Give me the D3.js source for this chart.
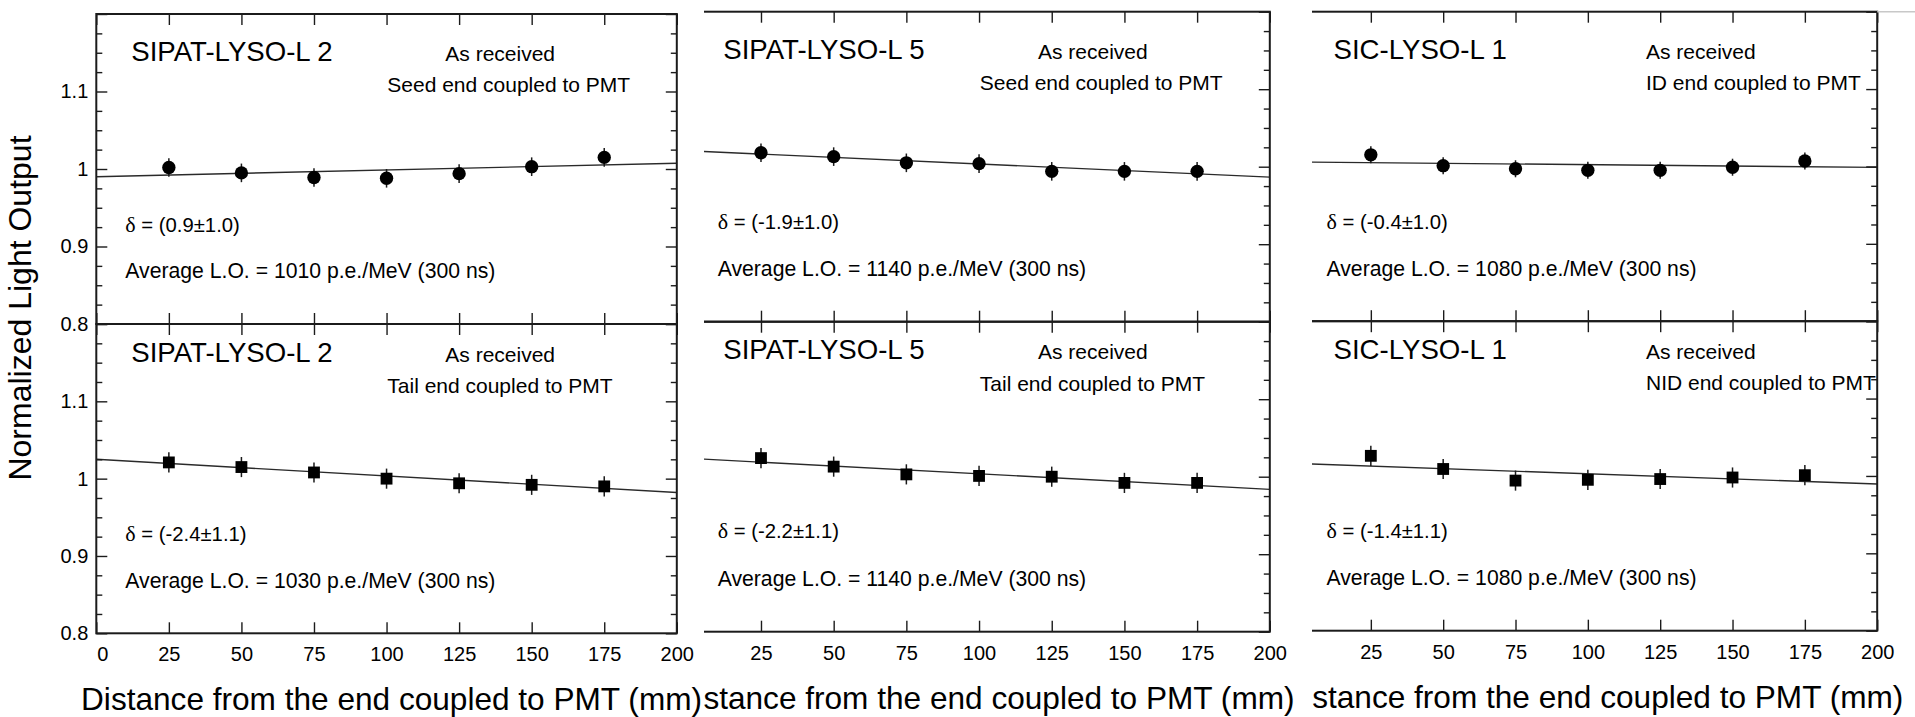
<!DOCTYPE html>
<html>
<head>
<meta charset="utf-8">
<script src="https://cdn.jsdelivr.net/npm/d3@7"></script>
<style>
  body { margin: 0; background: #fff; }
  svg { display: block; font-family: 'Liberation Sans', Arial, Helvetica, sans-serif; }
</style>
</head>
<body>
<div id="chart"></div>
<script>
// Distances from the coupled end (mm) where the source was placed
var positions = [25, 50, 75, 100, 125, 150, 175]
var xTickValues = [0, 25, 50, 75, 100, 125, 150, 175, 200]
var yLabelValues = [0.8, 0.9, 1, 1.1]
var yMajorValues = [0.8, 0.9, 1, 1.1, 1.2]
var yMinorValues = [0.825, 0.85, 0.875, 0.925, 0.95, 0.975, 1.025, 1.05, 1.075, 1.125, 1.15, 1.175]

var crystals = ['SIPAT-LYSO-L 2', 'SIPAT-LYSO-L 5', 'SIC-LYSO-L 1']
var topEnds = ['Seed end coupled to PMT', 'Seed end coupled to PMT', 'ID end coupled to PMT']
var bottomEnds = ['Tail end coupled to PMT', 'Tail end coupled to PMT', 'NID end coupled to PMT']

// Normalized light output, top row (circles)
var topValues = [
  [1.002, 0.995, 0.989, 0.988, 0.994, 1.003, 1.015],
  [1.018, 1.013, 1.005, 1.004, 0.994, 0.994, 0.994],
  [1.015, 1.001, 0.997, 0.995, 0.995, 0.999, 1.007]
]
var topErrors = [
  [0.012, 0.012, 0.012, 0.012, 0.012, 0.012, 0.012],
  [0.012, 0.012, 0.012, 0.012, 0.012, 0.012, 0.012],
  [0.011, 0.011, 0.011, 0.011, 0.011, 0.011, 0.011]
]
// Linear fit, value at 0 mm and at 200 mm
var topFits = [[0.990, 1.0075], [1.0205, 0.9865], [1.0058, 0.9988]]
var topDeltas = ['(0.9\u00b11.0)', '(-1.9\u00b11.0)', '(-0.4\u00b11.0)']
var topLightOutputs = [1010, 1140, 1080]

// Normalized light output, bottom row (squares)
var bottomValues = [
  [1.021, 1.015, 1.008, 1.000, 0.994, 0.992, 0.990],
  [1.024, 1.013, 1.003, 1.001, 1.000, 0.992, 0.992],
  [1.026, 1.009, 0.994, 0.995, 0.996, 0.998, 1.001]
]
var bottomErrors = [
  [0.013, 0.013, 0.013, 0.013, 0.013, 0.013, 0.013],
  [0.013, 0.013, 0.013, 0.013, 0.013, 0.013, 0.013],
  [0.013, 0.013, 0.013, 0.013, 0.013, 0.013, 0.013]
]
var bottomFits = [[1.025, 0.982], [1.0237, 0.9837], [1.016, 0.9895]]
var bottomDeltas = ['(-2.4\u00b11.1)', '(-2.2\u00b11.1)', '(-1.4\u00b11.1)']
var bottomLightOutputs = [1030, 1140, 1080]

var width = 1915
var height = 717

// Each column is a cropped plot, the middle and right ones lose their left edge
var columns = [
  { x0: 96.3, x1: 676.8, clip: 0, top: 14, mid: 324, bottom: 633.3, asX: 349, endX: 291, deltaX: 29 },
  { x0: 688.3, x1: 1269.8, clip: 704, top: 11.7, mid: 321.7, bottom: 631.7, asX: 349.7, endX: 291.5, deltaX: 29.4 },
  { x0: 1298.5, x1: 1877.2, clip: 1312, top: 11.7, mid: 321.2, bottom: 630.7, asX: 347.5, endX: 347.5, deltaX: 28 }
]

var ink = '#1b1b1b'

var svg = d3
  .select('#chart')
  .append('svg')
  .attr('width', width)
  .attr('height', height)

svg.append('rect').attr('width', width).attr('height', height).attr('fill', '#fff')

var defs = svg.append('defs')

columns.forEach((col, i) => {
  defs
    .append('clipPath')
    .attr('id', 'clip-' + i)
    .append('rect')
    .attr('x', col.clip)
    .attr('y', 0)
    .attr('width', width - col.clip)
    .attr('height', height)

  var g = svg.append('g').attr('clip-path', `url(#clip-${i})`)

  var x = d3.scaleLinear().domain([0, 200]).range([col.x0, col.x1])

  var rows = [
    {
      top: col.top, bottom: col.mid, values: topValues[i], errors: topErrors[i],
      fit: topFits[i], end: topEnds[i], delta: topDeltas[i], lo: topLightOutputs[i],
      symbol: d3.symbolCircle, size: 140,
      titleY: 47, endY: 78, deltaY: 217.5, loY: 264
    },
    {
      top: col.mid, bottom: col.bottom, values: bottomValues[i], errors: bottomErrors[i],
      fit: bottomFits[i], end: bottomEnds[i], delta: bottomDeltas[i], lo: bottomLightOutputs[i],
      symbol: d3.symbolSquare, size: 140,
      titleY: 37.7, endY: 69.2, deltaY: 216.5, loY: 264
    }
  ]

  rows.forEach((row, r) => {
    var y = d3.scaleLinear().domain([0.8, 1.2]).range([row.bottom, row.top])
    var panel = g.append('g')

    // fit line
    var line = d3.line().x(d => x(d[0])).y(d => y(d[1]))
    panel
      .append('path')
      .attr('d', line([[0, row.fit[0]], [200, row.fit[1]]]))
      .attr('stroke', '#2a2a2a')
      .attr('stroke-width', 1.4)
      .attr('fill', 'none')

    // error bars and markers
    var points = positions.map((p, k) => ({ x: p, v: row.values[k], e: row.errors[k] }))
    panel
      .selectAll('.err')
      .data(points)
      .enter()
      .append('line')
      .attr('x1', d => x(d.x))
      .attr('x2', d => x(d.x))
      .attr('y1', d => y(d.v - d.e))
      .attr('y2', d => y(d.v + d.e))
      .attr('stroke', ink)
      .attr('stroke-width', 1.5)
    panel
      .selectAll('.pt')
      .data(points)
      .enter()
      .append('path')
      .attr('d', d3.symbol().type(row.symbol).size(row.size))
      .attr('transform', d => `translate(${x(d.x)},${y(d.v)})`)
      .attr('fill', '#000')

    // ticks on all four sides, pointing inward
    panel
      .append('g')
      .attr('transform', `translate(0,${row.top})`)
      .call(d3.axisBottom(x).tickValues(xTickValues).tickSize(11).tickSizeOuter(0).tickFormat(''))
    panel
      .append('g')
      .attr('transform', `translate(0,${row.bottom})`)
      .call(d3.axisTop(x).tickValues(xTickValues).tickSize(11).tickSizeOuter(0).tickFormat(''))
    panel
      .append('g')
      .attr('transform', `translate(${col.x0},0)`)
      .call(d3.axisRight(y).tickValues(yMajorValues).tickSize(11).tickSizeOuter(0).tickFormat(''))
    panel
      .append('g')
      .attr('transform', `translate(${col.x0},0)`)
      .call(d3.axisRight(y).tickValues(yMinorValues).tickSize(6).tickSizeOuter(0).tickFormat(''))
    panel
      .append('g')
      .attr('transform', `translate(${col.x1},0)`)
      .call(d3.axisLeft(y).tickValues(yMajorValues).tickSize(11).tickSizeOuter(0).tickFormat(''))
    panel
      .append('g')
      .attr('transform', `translate(${col.x1},0)`)
      .call(d3.axisLeft(y).tickValues(yMinorValues).tickSize(6).tickSizeOuter(0).tickFormat(''))
    panel.selectAll('.domain').remove()
    panel.selectAll('.tick line').attr('stroke', ink).attr('stroke-width', 1.4)

    // frame
    panel
      .append('rect')
      .attr('x', col.x0)
      .attr('y', row.top)
      .attr('width', col.x1 - col.x0)
      .attr('height', row.bottom - row.top)
      .attr('fill', 'none')
      .attr('stroke', ink)
      .attr('stroke-width', 2)

    // y labels only on the first column
    if (i === 0) {
      var yl = panel
        .append('g')
        .attr('transform', `translate(${col.x0},0)`)
        .call(d3.axisLeft(y).tickValues(yLabelValues).tickSize(0).tickPadding(8).tickFormat(d => String(d)))
      yl.select('.domain').remove()
      yl.selectAll('text').attr('font-size', 20).attr('fill', '#000').attr('font-family', null)
    }

    // annotations
    var t = panel.append('g').attr('fill', '#000')
    t.append('text')
      .attr('x', col.x0 + 35)
      .attr('y', row.top + row.titleY)
      .attr('font-size', 27.6)
      .text(crystals[i])
    t.append('text')
      .attr('x', col.x0 + col.asX)
      .attr('y', row.top + row.titleY)
      .attr('font-size', 21)
      .text('As received')
    t.append('text')
      .attr('x', col.x0 + col.endX)
      .attr('y', row.top + row.endY)
      .attr('font-size', 21)
      .text(row.end)
    var dt = t.append('text')
      .attr('x', col.x0 + col.deltaX)
      .attr('y', row.top + row.deltaY)
      .attr('font-size', 20.3)
    dt.append('tspan').attr('font-family', "'Liberation Serif', 'DejaVu Serif', serif").attr('font-size', 22).text('\u03b4')
    dt.append('tspan').text(' = ' + row.delta)
    t.append('text')
      .attr('x', col.x0 + col.deltaX)
      .attr('y', row.top + row.loY)
      .attr('font-size', 21.2)
      .text(`Average L.O. = ${row.lo} p.e./MeV (300 ns)`)
  })

  // x tick labels under the bottom row, skipping ones lost in the crop
  var labelTicks = xTickValues.filter(d => x(d) > col.clip + 10)
  var xl = g
    .append('g')
    .attr('transform', `translate(0,${col.bottom})`)
    .call(d3.axisBottom(x).tickValues(labelTicks).tickSize(0).tickPadding(14))
  xl.select('.domain').remove()
  xl.selectAll('text')
    .attr('font-size', 20)
    .attr('fill', '#000')
    .attr('font-family', null)
    .attr('dx', d => (d === 0 ? 6 : 0))

  g.append('text')
    .attr('x', (col.x0 + col.x1) / 2 + 5)
    .attr('y', col.bottom + 77)
    .attr('text-anchor', 'middle')
    .attr('font-size', 31.6)
    .attr('fill', '#000')
    .text('Distance from the end coupled to PMT (mm)')
})

// shared y title
svg
  .append('text')
  .attr('transform', 'translate(20,308) rotate(-90)')
  .attr('text-anchor', 'middle')
  .attr('dominant-baseline', 'central')
  .attr('font-size', 32)
  .attr('fill', '#000')
  .text('Normalized Light Output')

// faint edge of the scanned page at the top right
svg
  .append('line')
  .attr('x1', columns[2].x1)
  .attr('x2', width)
  .attr('y1', columns[2].top)
  .attr('y2', columns[2].top)
  .attr('stroke', '#c8c8c8')
  .attr('stroke-width', 1.5)
</script>
</body>
</html>
